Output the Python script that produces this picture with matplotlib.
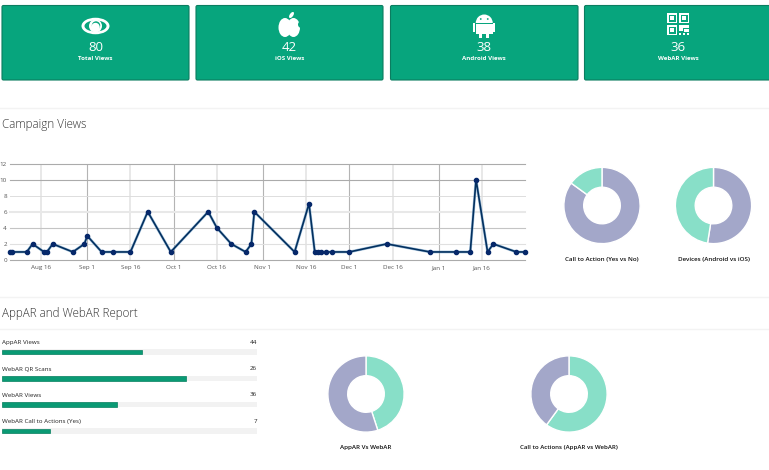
import datetime as dt
import matplotlib
matplotlib.use('Agg')
import matplotlib.pyplot as plt
import matplotlib.dates as mdates
from matplotlib.patches import Circle, Ellipse, FancyBboxPatch, Rectangle, Wedge

plt.rcParams['font.family'] = ['Open Sans', 'DejaVu Sans']

W, H = 769, 470

# cards
card_values = [80, 42, 38, 36]
card_labels = ['Total Views', 'iOS Views', 'Android Views', 'WebAR Views']

# campaign views line
view_dates = ['2017-08-05', '2017-08-06', '2017-08-11', '2017-08-13', '2017-08-17',
              '2017-08-18', '2017-08-20', '2017-08-27', '2017-08-31', '2017-09-01',
              '2017-09-06', '2017-09-10', '2017-09-16', '2017-09-22', '2017-09-30',
              '2017-10-13', '2017-10-16', '2017-10-21', '2017-10-26', '2017-10-28',
              '2017-10-29', '2017-11-12', '2017-11-17', '2017-11-19', '2017-11-20',
              '2017-11-21', '2017-11-23', '2017-11-25', '2017-12-01', '2017-12-14',
              '2017-12-29', '2018-01-07', '2018-01-12', '2018-01-14', '2018-01-18',
              '2018-01-20', '2018-01-28', '2018-01-31']
view_counts = [1, 1, 1, 2, 1, 1, 2, 1, 2, 3, 1, 1, 1, 6, 1, 6, 4, 2, 1, 2, 6,
               1, 7, 1, 1, 1, 1, 1, 1, 2, 1, 1, 1, 10, 1, 2, 1, 1]
month_ticks = ['2017-09-01', '2017-10-01', '2017-11-01', '2017-12-01', '2018-01-01']
mid_ticks = ['2017-08-16', '2017-09-16', '2017-10-16', '2017-11-16', '2017-12-16', '2018-01-16']

# report bars
report_labels = ['AppAR Views', 'WebAR QR Scans', 'WebAR Views', 'WebAR Call to Actions (Yes)']
report_counts = [44, 26, 36, 7]
report_percent = [55, 72, 45, 19]

# donuts, in drawing order: clockwise from the top
cta_yes_no = [85, 15]
devices = [42, 38]
app_vs_web = [36, 44]
cta_app_web = [60, 40]

GREEN = '#07a57d'
GREEN_EDGE = '#0b7d60'
PURPLE = '#a3a7c9'
TEAL = '#88dfc8'


def px_axes(left, top, width, height):
    return fig.add_axes([left / W, 1 - (top + height) / H, width / W, height / H])


def donut(cx, cy, values, colors, label, size=4.5):
    r = 38.5
    ax = px_axes(cx - r, cy - r, 2 * r, 2 * r)
    ax.pie(values, colors=colors, startangle=90, counterclock=False, radius=1,
           wedgeprops={'width': 0.52, 'edgecolor': 'white', 'linewidth': 1.0})
    ax.set_xlim(-1.01, 1.01)
    ax.set_ylim(-1.01, 1.01)
    bg.text(cx, cy + 53, label, ha='center', va='center', fontsize=size, color='#111111', fontweight='semibold')


def eye_icon(cx, cy):
    bg.add_patch(Ellipse((cx, cy), 28, 16.5, fc='white', ec='none'))
    bg.add_patch(Ellipse((cx, cy), 22, 11, fc=GREEN, ec='none'))
    bg.add_patch(Circle((cx, cy), 6.5, fc='white', ec='none'))
    bg.add_patch(Circle((cx + 0.5, cy - 0.5), 4.2, fc=GREEN, ec='none'))
    bg.add_patch(Circle((cx, cy + 1), 4.2, fc='white', ec='none'))


def apple_icon(cx, cy):
    bg.add_patch(Ellipse((cx - 4.5, cy + 2.5), 13, 19, fc='white', ec='none'))
    bg.add_patch(Ellipse((cx + 4, cy + 2.5), 13, 19, fc='white', ec='none'))
    bg.add_patch(Circle((cx + 12, cy - 0.5), 3.5, fc=GREEN, ec='none'))
    bg.add_patch(Ellipse((cx + 2, cy - 10), 3.5, 7, angle=35, fc='white', ec='none'))


def android_icon(cx, cy):
    bg.add_patch(Wedge((cx, cy - 2), 8.5, 180, 360, fc='white', ec='none'))
    bg.add_patch(Circle((cx - 3.5, cy - 6), 0.9, fc=GREEN, ec='none'))
    bg.add_patch(Circle((cx + 3.5, cy - 6), 0.9, fc=GREEN, ec='none'))
    bg.add_patch(Rectangle((cx - 8.5, cy - 1), 17, 10, fc='white', ec='none'))
    bg.add_patch(Rectangle((cx - 11.2, cy - 2), 2, 8.5, fc='white', ec='none'))
    bg.add_patch(Rectangle((cx + 9.2, cy - 2), 2, 8.5, fc='white', ec='none'))
    bg.add_patch(Rectangle((cx - 5, cy + 9), 3, 4, fc='white', ec='none'))
    bg.add_patch(Rectangle((cx + 2, cy + 9), 3, 4, fc='white', ec='none'))


def qr_icon(cx, cy):
    for dx, dy in [(-11, -11), (1, -11), (-11, 1)]:
        bg.add_patch(Rectangle((cx + dx, cy + dy), 10, 10, fc='white', ec='none'))
        bg.add_patch(Rectangle((cx + dx + 1.5, cy + dy + 1.5), 7, 7, fc=GREEN, ec='none'))
        bg.add_patch(Rectangle((cx + dx + 3.2, cy + dy + 3.2), 3.6, 3.6, fc='white', ec='none'))
    for x0, y0, w, h in [(1, 1, 4, 6), (5, 1, 6, 3), (6, 5, 5, 3), (1, 9, 2, 2), (5, 9, 2, 2), (9, 9, 2, 2)]:
        bg.add_patch(Rectangle((cx + x0, cy + y0), w, h, fc='white', ec='none'))


fig = plt.figure(figsize=(W / 100, H / 100), dpi=100, facecolor='white')

# page layer in pixel coordinates
bg = fig.add_axes([0, 0, 1, 1])
bg.set_xlim(0, W)
bg.set_ylim(H, 0)
bg.axis('off')

card_lefts = [2, 196, 390.5, 584.5]
card_rights = [189, 383, 578, 772]
icons = [eye_icon, apple_icon, android_icon, qr_icon]
icon_y = [26, 25, 25, 24]
for i in range(4):
    x0, x1 = card_lefts[i], card_rights[i]
    bg.add_patch(FancyBboxPatch((x0, 5.5), x1 - x0, 74.5, boxstyle='round,pad=0,rounding_size=1.5',
                                fc=GREEN, ec=GREEN_EDGE, lw=0.8))
    cx = (x0 + min(x1, 769)) / 2 if i < 3 else 678
    icons[i](cx, icon_y[i])
    bg.text(cx, 47.5, str(card_values[i]), ha='center', va='center', fontsize=9.5, color='white')
    bg.text(cx, 58.5, card_labels[i], ha='center', va='center', fontsize=4.4, color='white', fontweight='bold')

for y in [108, 297, 329]:
    bg.plot([0, W], [y, y], color='#f3f3f3', lw=1)

bg.text(2, 124.5, 'Campaign Views', ha='left', va='center', fontsize=8.4, color='#333333', fontweight='light')
bg.text(2, 314, 'AppAR and WebAR Report', ha='left', va='center', fontsize=8.4, color='#333333', fontweight='light')

# line chart
dates = [dt.date.fromisoformat(d) for d in view_dates]
major = [dt.date.fromisoformat(d) for d in month_ticks]
minor = [dt.date.fromisoformat(d) for d in mid_ticks]

ax = px_axes(9.5, 163.5, 515.5, 96.5)
ax.plot(dates, view_counts, color='#5f95c4', lw=2.0, alpha=0.55, clip_on=False, zorder=4)
ax.plot(dates, view_counts, color='#03305f', lw=1.2, marker='o', ms=3.0,
        mfc='#06286a', mec='#06286a', clip_on=False, zorder=5)
ax.set_xlim(dt.date(2017, 8, 5), dt.date(2018, 1, 31))
ax.set_ylim(0, 12)
for spine in ax.spines.values():
    spine.set_visible(False)
for x in minor:
    ax.axvline(x, color='#e8e8e8', lw=1.4, zorder=0)
for x in major:
    ax.axvline(x, color='#b4b4b4', lw=0.8, zorder=1)
for y, col, lw in [(12, '#ababab', 0.8), (10, '#ababab', 0.8), (8, '#dddddd', 0.7), (6, '#e8e8e8', 1.5),
                   (4, '#c4c4c4', 0.8), (2, '#e0e0e0', 0.8), (0, '#ababab', 0.8)]:
    ax.plot([0, 1], [y / 12, y / 12], transform=ax.transAxes, color=col, lw=lw, zorder=1, clip_on=False)
ax.set_yticks(range(0, 13, 2))
ax.set_xticks(sorted(major + minor))
ax.xaxis.set_major_formatter(mdates.DateFormatter('%b %-d'))
ax.tick_params(length=0, labelsize=4.5, labelcolor='#555555')
ax.tick_params(axis='y', pad=1.8)
ax.tick_params(axis='x', pad=3.5)
ax.patch.set_alpha(0)

# report bars
for i, lab in enumerate(report_labels):
    y = 342.5 + i * 26.5
    bg.text(2, y, lab, ha='left', va='center', fontsize=4.5, color='#222222')
    bg.text(257, y - 0.5, str(report_counts[i]), ha='right', va='center', fontsize=4.5, color='#222222')

bar_ax = px_axes(2, 339, 255, 105)
bar_ax.set_xlim(0, 100)
bar_ax.set_ylim(3.494, -0.494)
bar_ax.axis('off')
rows = list(range(4))
bar_ax.barh(rows, [100] * 4, height=0.2, color='#f2f2f2')
bar_ax.barh(rows, report_percent, height=0.17, color='#0a9a74', edgecolor='#07805f', lw=0.5)

# donuts
donut(602, 205.5, cta_yes_no, [PURPLE, TEAL], 'Call to Action (Yes vs No)')
donut(713.5, 205.5, devices, [PURPLE, TEAL], 'Devices (Android vs iOS)')
donut(366, 394, app_vs_web, [TEAL, PURPLE], 'AppAR Vs WebAR')
donut(569, 394, cta_app_web, [TEAL, PURPLE], 'Call to Actions (AppAR vs WebAR)', size=4.4)

fig.savefig('out.png', dpi=100)
